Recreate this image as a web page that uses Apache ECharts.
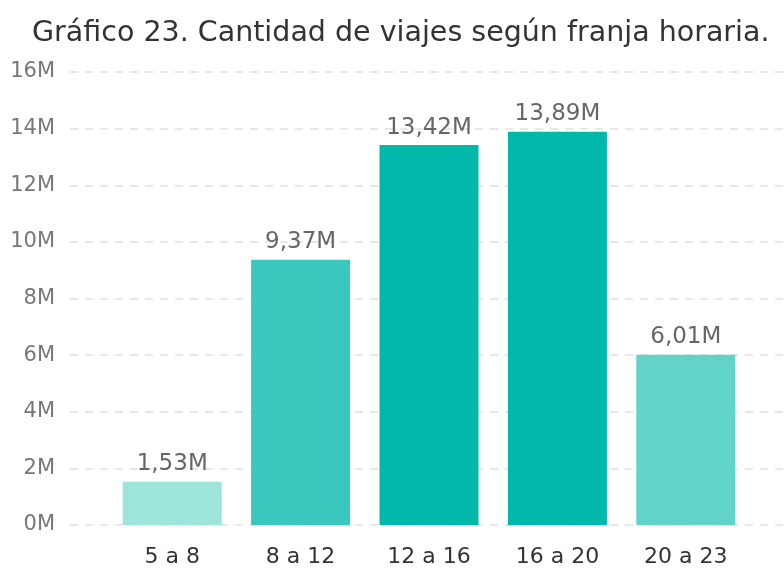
<!DOCTYPE html>
<html>
<head>
<meta charset="utf-8">
<title>Gráfico 23</title>
<script src="https://cdn.jsdelivr.net/npm/echarts@6/dist/echarts.min.js"></script>
<style>
  html, body { margin: 0; padding: 0; background: #fff; }
  #chart { width: 784px; height: 569px; }
</style>
</head>
<body>
<div id="chart"></div>
<script>
// datos del gráfico
const franjas = ['5 a 8', '8 a 12', '12 a 16', '16 a 20', '20 a 23'];
const viajes = [1.53e6, 9.37e6, 13.42e6, 13.89e6, 6.01e6];
const colores = ['#9de4da', '#3ac8be', '#01b8aa', '#01b8aa', '#62d3c9'];
const yMax = 16e6;
const yPaso = 2e6;

const chart = echarts.init(document.getElementById('chart'));

const fmtM = v => (v / 1e6).toFixed(0) + 'M';
const fmtEtiqueta = v => (v / 1e6).toFixed(2).replace('.', ',') + 'M';

// grid 0: solo líneas de fondo (más ancho); grid 1: barras
const gridTop = 72;
const gridBottom = 569 - 525;
const fuente = 'DejaVu Sans';

const option = {
  animation: false,
  textStyle: { fontFamily: fuente },
  title: {
    text: 'Gráfico 23. Cantidad de viajes según franja horaria.',
    left: 27,
    top: 14,
    textStyle: { fontSize: 28.5, fontWeight: 'normal', color: '#333', fontFamily: fuente }
  },
  grid: [
    { left: 70, right: 0, top: gridTop, bottom: gridBottom },
    { left: 108, right: 34, top: gridTop, bottom: gridBottom }
  ],
  xAxis: [
    { gridIndex: 0, type: 'category', data: franjas, show: false },
    {
      gridIndex: 1,
      type: 'category',
      data: franjas,
      axisLine: { show: false },
      axisTick: { show: false },
      axisLabel: { color: '#333', fontSize: 22, margin: 21, fontFamily: fuente }
    }
  ],
  yAxis: [
    {
      gridIndex: 0,
      type: 'value',
      min: 0,
      max: yMax,
      interval: yPaso,
      axisLine: { show: false },
      axisTick: { show: false },
      axisLabel: { color: '#777', fontSize: 21, margin: 15, formatter: fmtM, fontFamily: fuente },
      splitLine: { lineStyle: { color: '#e8e8e8', width: 2, type: [8, 7] } }
    },
    {
      gridIndex: 1,
      type: 'value',
      min: 0,
      max: yMax,
      interval: yPaso,
      show: false,
      splitLine: { show: false }
    }
  ],
  series: [{
    type: 'bar',
    xAxisIndex: 1,
    yAxisIndex: 1,
    data: viajes.map((v, i) => ({ value: v, itemStyle: { color: colores[i] } })),
    barWidth: 99,
    label: {
      show: true,
      position: 'top',
      distance: 6,
      color: '#666',
      fontSize: 23,
      fontFamily: fuente,
      formatter: p => fmtEtiqueta(p.value)
    }
  }]
};

chart.setOption(option);
</script>
</body>
</html>
